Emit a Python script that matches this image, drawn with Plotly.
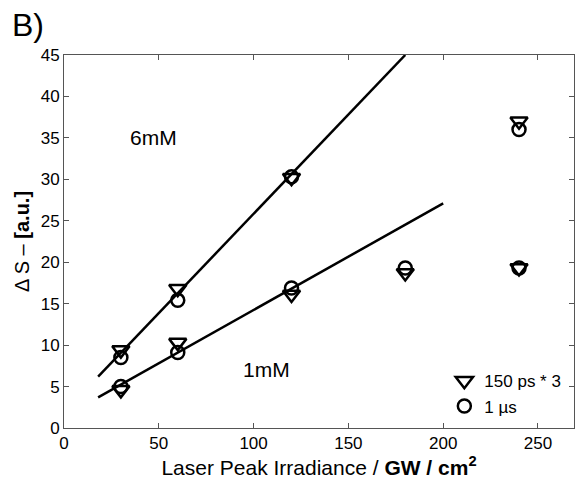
import plotly.graph_objects as go

# Data
irr = [30, 30, 60, 60, 120, 120, 180, 240, 240]
ps150_x3 = [9.4, 4.6, 16.8, 10.3, 30.2, 16.1, 18.7, 37.0, 19.3]
us1 = [8.5, 5.0, 15.4, 9.1, 30.3, 16.9, 19.3, 36.0, 19.3]

fit6_x = [18, 180]
fit6_y = [6.2, 45.0]
fit1_x = [18, 200]
fit1_y = [3.7, 27.1]

xticks = [0, 50, 100, 150, 200, 250]
yticks = [0, 5, 10, 15, 20, 25, 30, 35, 40, 45]

FONT = "Liberation Sans, Arial, sans-serif"

fig = go.Figure()
fig.add_trace(go.Scatter(x=fit6_x, y=fit6_y, mode="lines",
                         line=dict(color="black", width=2.5), showlegend=False))
fig.add_trace(go.Scatter(x=fit1_x, y=fit1_y, mode="lines",
                         line=dict(color="black", width=2.5), showlegend=False))
fig.add_trace(go.Scatter(x=irr, y=ps150_x3, mode="markers", name="150 ps * 3",
                         marker=dict(symbol="triangle-down-open", size=15,
                                     color="black", line=dict(width=2.5))))
fig.add_trace(go.Scatter(x=irr, y=us1, mode="markers", name="1 \u00b5s",
                         marker=dict(symbol="circle-open", size=13,
                                     color="black", line=dict(width=2.5))))

fig.add_annotation(x=47, y=35.1, text="6mM", showarrow=False,
                   font=dict(size=21, color="black", family=FONT))
fig.add_annotation(x=107, y=7.0, text="1mM", showarrow=False,
                   font=dict(size=21, color="black", family=FONT))
fig.add_annotation(xref="paper", yref="paper", x=-0.105, y=1.08, xanchor="left",
                   yanchor="middle", text="B)", showarrow=False,
                   font=dict(size=32, color="black", family=FONT))

axis_common = dict(showline=True, linecolor="#555555", linewidth=1, mirror="ticks",
                   ticks="inside", ticklen=5, tickcolor="#555555", showgrid=False,
                   zeroline=False, tickfont=dict(size=17, color="black", family=FONT))

fig.update_xaxes(range=[0, 269], tickvals=xticks,
                 title=dict(text="Laser Peak Irradiance / <b>GW / cm<sup>2</sup></b>",
                            font=dict(size=21, color="black", family=FONT), standoff=3),
                 **axis_common)
fig.update_yaxes(range=[0, 45], tickvals=yticks,
                 title=dict(text="\u0394 S \u2013 <b>[a.u.]</b>",
                            font=dict(size=20, color="black", family=FONT), standoff=5),
                 **axis_common)

fig.update_layout(
    width=575, height=479,
    margin=dict(l=64, r=1, t=55, b=51),
    plot_bgcolor="white", paper_bgcolor="white",
    font=dict(family=FONT, color="black"),
    legend=dict(x=0.985, y=0.01, xanchor="right", yanchor="bottom",
                bgcolor="rgba(0,0,0,0)", font=dict(size=17, family=FONT),
                tracegroupgap=0, itemwidth=30),
)

fig.write_html("out.html")
